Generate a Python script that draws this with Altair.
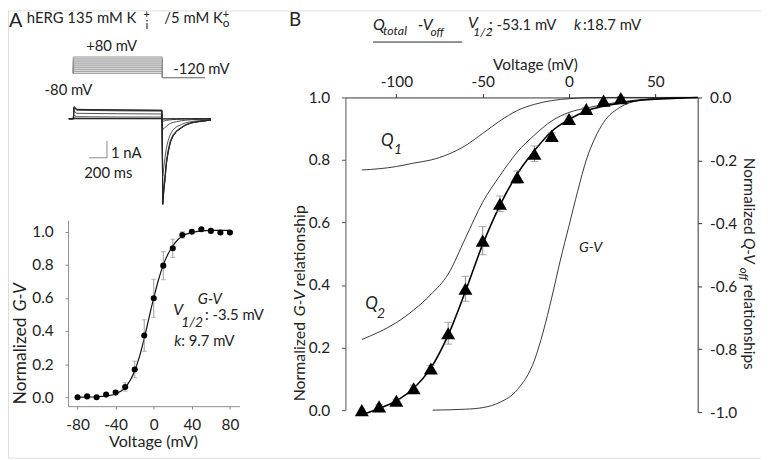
import altair as alt
import pandas as pd

FONT = "Lato"
W, H = 761, 452


def P(v):
    # page pixel -> view pixel (page has an 8px margin)
    return v - 8


def lin(domain, r0, r1):
    return alt.Scale(domain=domain, range=[P(r0), P(r1)], zero=False, nice=False)


# ---------------- data ----------------
# Panel A: voltage protocol (ms, mV)
step_voltages = [-80, -60, -40, -20, 0, 20, 40, 60, 80]
proto_t = [0, 0, 1000, 1000, 1475]
holding_mv = -80
tail_mv = -120

# Panel A: current traces (ms, nA)
trace_t = [-50, 0, 8, 40, 500, 995, 1005, 1015, 1030, 1045, 1065, 1090, 1120, 1160, 1215, 1260, 1325, 1400, 1475, 1545]
tr_m80 = [0, 0, 0, 0, 0, 0, 0, 0, 0, 0, 0, 0, 0, 0, 0, 0, 0, 0, 0, 0]
tr_m60 = [0, 0, 0.02, 0.01, 0.01, 0.01, -0.03, -0.03, -0.02, -0.02, -0.02, -0.01, -0.01, -0.01, 0, 0, 0, 0, 0, 0]
tr_m40 = [0, 0, 0.06, 0.03, 0.02, 0.02, -0.15, -0.14, -0.12, -0.1, -0.08, -0.07, -0.05, -0.04, -0.03, -0.02, -0.015, -0.01, -0.01, 0]
tr_m20 = [0, 0, 0.2, 0.12, 0.1, 0.1, -0.65, -0.6, -0.52, -0.44, -0.36, -0.28, -0.22, -0.17, -0.12, -0.09, -0.06, -0.04, -0.03, -0.02]
tr_0 = [0, 0, 0.45, 0.32, 0.3, 0.28, -3.4, -2.9, -2.3, -1.75, -1.3, -0.92, -0.66, -0.48, -0.34, -0.25, -0.17, -0.12, -0.09, -0.06]
tr_p20 = [0, 0, 0.65, 0.5, 0.47, 0.45, -4.7, -4.0, -3.3, -2.5, -1.85, -1.3, -0.95, -0.7, -0.5, -0.36, -0.24, -0.17, -0.12, -0.08]
tr_p40 = [0, 0, 0.7, 0.55, 0.52, 0.5, -5.0, -4.3, -3.55, -2.65, -1.98, -1.38, -1.02, -0.74, -0.53, -0.38, -0.25, -0.18, -0.13, -0.08]
tr_p60 = [0, 0, 0.7, 0.55, 0.52, 0.5, -5.1, -4.4, -3.6, -2.7, -2.0, -1.4, -1.03, -0.75, -0.54, -0.38, -0.25, -0.18, -0.13, -0.08]
tr_p80 = [0, 0, 0.72, 0.56, 0.52, 0.5, -5.1, -4.4, -3.6, -2.7, -2.0, -1.4, -1.03, -0.75, -0.54, -0.38, -0.25, -0.18, -0.13, -0.08]

# scale bar (200 ms, 1 nA)
bar_t = [178, 378, 378]
bar_i = [-2.32, -2.32, -1.32]

# Panel A: G-V
gvA_v = [-80, -70, -60, -50, -40, -30, -20, -10, 0, 10, 20, 30, 40, 50, 60, 70, 80]
gvA_g = [0.0, 0.005, 0.0, 0.016, 0.028, 0.062, 0.168, 0.373, 0.598, 0.795, 0.90, 0.98, 1.0, 1.015, 1.005, 0.995, 0.995]
gvA_err = [0.005, 0.005, 0.005, 0.008, 0.01, 0.025, 0.05, 0.095, 0.115, 0.085, 0.055, 0.02, 0.01, 0.005, 0.005, 0.005, 0.005]
fitA_v = [-80, -70, -60, -50, -40, -30, -20, -15, -10, -5, 0, 5, 10, 15, 20, 25, 30, 40, 50, 60, 70, 80]
fitA_g = [0.0, 0.001, 0.003, 0.008, 0.02, 0.058, 0.16, 0.245, 0.355, 0.48, 0.6, 0.71, 0.8, 0.865, 0.915, 0.95, 0.975, 0.995, 1.005, 1.008, 1.008, 1.008]

# Panel B: Q_total - V_off
qB_v = [-120, -110, -100, -90, -80, -70, -60, -50, -40, -30, -20, -10, 0, 10, 20, 30]
qB_q = [0.0, 0.012, 0.03, 0.07, 0.133, 0.246, 0.388, 0.542, 0.66, 0.745, 0.82, 0.877, 0.931, 0.963, 0.99, 0.998]
qB_err = [0, 0.005, 0.005, 0.01, 0.01, 0.035, 0.04, 0.045, 0.025, 0.02, 0.025, 0.01, 0.01, 0.005, 0.005, 0.005]
fitB_v = [-120, -115, -110, -100, -90, -80, -70, -60, -50, -40, -30, -20, -10, 0, 10, 20, 30, 40, 50, 60, 74.5]
fitB_q = [-0.015, -0.005, 0.005, 0.03, 0.07, 0.135, 0.24, 0.38, 0.53, 0.655, 0.755, 0.83, 0.892, 0.93, 0.957, 0.972, 0.982, 0.99, 0.994, 0.997, 1.0]
q1_v = [-120, -110, -100, -90, -80, -70, -60, -50, -40, -30, -20, -10, 0, 10, 20, 74.5]
q1_q = [0.768, 0.772, 0.779, 0.79, 0.8, 0.818, 0.846, 0.885, 0.925, 0.958, 0.978, 0.99, 0.996, 0.999, 1.0, 1.0]
q2_v = [-120, -110, -100, -90, -80, -70, -60, -50, -40, -30, -20, -10, 0, 10, 20, 30, 40, 50, 60, 74.5]
q2_q = [0.226, 0.25, 0.28, 0.32, 0.37, 0.435, 0.55, 0.665, 0.75, 0.825, 0.88, 0.925, 0.952, 0.966, 0.977, 0.986, 0.992, 0.997, 1.0, 1.0]
gvB_v = [-79, -60, -50, -40, -30, -20, -15, -10, -5, 0, 5, 10, 15, 20, 30, 40, 50, 74.5]
gvB_g = [0.0, 0.003, 0.008, 0.025, 0.065, 0.16, 0.25, 0.36, 0.48, 0.59, 0.7, 0.8, 0.87, 0.92, 0.97, 0.99, 0.996, 1.0]

# ---------------- scales (explicit pixel ranges) ----------------
S_t = lin([0, 1000], 74, 164)
S_vp = lin([-120, 80], 75.9, 55)
S_i = lin([-5, 0], 202.5, 117.5)
S_xa = lin([-90, 90], 68.7, 241.9)
S_ya = lin([-0.054, 1.07], 408, 220)
S_xb = lin([-129.5, 74.5], 349, 705)
S_yb = lin([0, 1], 412, 96)
S_ybr = lin([-1, 0], 414, 96)

INT_EXPR = "datum.value < 0 ? '-' + format(-datum.value, 'd') : format(datum.value, 'd')"
DEC_EXPR = "datum.value < -0.0001 ? '-' + format(-datum.value, '.1f') : format(abs(datum.value), '.1f')"


def ax(orient, offset, values, expr, color, tick=4, pad=4, size=15.5):
    return alt.Axis(orient=orient, offset=offset, values=values, labelExpr=expr, title=None,
                    grid=False, domainColor=color, tickColor=color, tickSize=tick,
                    domainWidth=1, tickWidth=1, labelFont=FONT, labelFontSize=size,
                    labelColor="#222", labelPadding=pad, labelFlush=False, labelOverlap=False)


NOAX = None

# ---------------- data frames ----------------
proto_rows = []
for v in step_voltages:
    ys = [holding_mv, v, v, tail_mv, tail_mv]
    for k, (t, y) in enumerate(zip(proto_t, ys)):
        proto_rows.append({"v": v, "k": k, "t": t, "mv": y})
proto_df = pd.DataFrame(proto_rows)
fill_df = pd.DataFrame({"t0": [0], "t1": [1000], "v0": [step_voltages[0]], "v1": [step_voltages[-1]]})

traces = {-80: tr_m80, -60: tr_m60, -40: tr_m40, -20: tr_m20, 0: tr_0, 20: tr_p20, 40: tr_p40, 60: tr_p60, 80: tr_p80}
tr_rows = []
for v, vals in traces.items():
    for k, (t, i) in enumerate(zip(trace_t, vals)):
        tr_rows.append({"v": v, "k": k, "t": t, "i": i})
tr_df = pd.DataFrame(tr_rows)
base_df = pd.DataFrame({"t": [trace_t[0], trace_t[-1]], "i": [0, 0], "k": [0, 1]})
bar_df = pd.DataFrame({"t": bar_t, "i": bar_i, "k": list(range(len(bar_t)))})

gvA_df = pd.DataFrame({"v": gvA_v, "g": gvA_g, "e": gvA_err})
gvA_df["lo"] = gvA_df["g"] - gvA_df["e"]
gvA_df["hi"] = gvA_df["g"] + gvA_df["e"]
capA_df = pd.concat([gvA_df[["v", "lo"]].rename(columns={"lo": "y"}),
                     gvA_df[["v", "hi"]].rename(columns={"hi": "y"})])
fitA_df = pd.DataFrame({"v": fitA_v, "g": fitA_g})

qB_df = pd.DataFrame({"v": qB_v, "q": qB_q, "e": qB_err})
qB_df["lo"] = qB_df["q"] - qB_df["e"]
qB_df["hi"] = qB_df["q"] + qB_df["e"]
errB_df = qB_df[qB_df["e"] > 0]
capB_df = pd.concat([errB_df[["v", "lo"]].rename(columns={"lo": "y"}),
                     errB_df[["v", "hi"]].rename(columns={"hi": "y"})])
fitB_df = pd.DataFrame({"v": fitB_v, "q": fitB_q})
thin_df = pd.concat([
    pd.DataFrame({"c": "Q1", "v": q1_v, "q": q1_q}),
    pd.DataFrame({"c": "Q2", "v": q2_v, "q": q2_q}),
    pd.DataFrame({"c": "GV", "v": gvB_v, "q": gvB_g}),
])

# ---------------- layers ----------------
layers = []

# Panel A: protocol
layers.append(alt.Chart(fill_df).mark_rect(color="#e2e2e2").encode(
    x=alt.X("t0:Q", scale=S_t, axis=NOAX), x2="t1:Q",
    y=alt.Y("v0:Q", scale=S_vp, axis=NOAX), y2="v1:Q"))
layers.append(alt.Chart(proto_df).mark_line(color="#8a8a8a", strokeWidth=0.8).encode(
    x=alt.X("t:Q", scale=S_t, axis=NOAX), y=alt.Y("mv:Q", scale=S_vp, axis=NOAX),
    detail="v:N", order="k:Q"))

# Panel A: current traces
layers.append(alt.Chart(base_df).mark_line(color="#999", strokeWidth=0.8).encode(
    x=alt.X("t:Q", scale=S_t, axis=NOAX), y=alt.Y("i:Q", scale=S_i, axis=NOAX), order="k:Q"))
layers.append(alt.Chart(tr_df).mark_line(color="#222", strokeWidth=0.8).encode(
    x=alt.X("t:Q", scale=S_t, axis=NOAX), y=alt.Y("i:Q", scale=S_i, axis=NOAX),
    detail="v:N", order="k:Q"))
layers.append(alt.Chart(bar_df).mark_line(color="#8a8a8a", strokeWidth=1).encode(
    x=alt.X("t:Q", scale=S_t, axis=NOAX), y=alt.Y("i:Q", scale=S_i, axis=NOAX), order="k:Q"))

# Panel A: G-V plot
layers.append(alt.Chart(fitA_df).mark_line(color="#111", strokeWidth=1.2, interpolate="monotone").encode(
    x=alt.X("v:Q", scale=S_xa, axis=ax("bottom", P(408) - H, [-80, -40, 0, 40, 80], INT_EXPR, "#8c8c8c", 3, 9)),
    y=alt.Y("g:Q", scale=S_ya, axis=ax("left", -P(68.7), [0, 0.2, 0.4, 0.6, 0.8, 1.0], DEC_EXPR, "#8c8c8c", 3, 12))))
layers.append(alt.Chart(gvA_df).mark_rule(color="#999", strokeWidth=1).encode(
    x=alt.X("v:Q", scale=S_xa, axis=NOAX), y=alt.Y("lo:Q", scale=S_ya, axis=NOAX), y2="hi:Q"))
layers.append(alt.Chart(capA_df).mark_tick(color="#999", orient="horizontal", size=5, thickness=1).encode(
    x=alt.X("v:Q", scale=S_xa, axis=NOAX), y=alt.Y("y:Q", scale=S_ya, axis=NOAX)))
layers.append(alt.Chart(gvA_df).mark_point(shape="circle", filled=True, color="#000", opacity=1, size=38).encode(
    x=alt.X("v:Q", scale=S_xa, axis=NOAX), y=alt.Y("g:Q", scale=S_ya, axis=NOAX)))

# Panel B
layers.append(alt.Chart(thin_df).mark_line(color="#222", strokeWidth=0.9, interpolate="monotone").encode(
    x=alt.X("v:Q", scale=S_xb, axis=ax("top", -P(96), [-100, -50, 0, 50], INT_EXPR, "#333", 4, 4)),
    y=alt.Y("q:Q", scale=S_yb, axis=ax("left", -P(349), [0, 0.2, 0.4, 0.6, 0.8, 1.0], DEC_EXPR, "#555", 4, 12)),
    detail="c:N"))
layers.append(alt.Chart(fitB_df).mark_line(color="#000", strokeWidth=1.6, interpolate="monotone").encode(
    x=alt.X("v:Q", scale=S_xb, axis=NOAX),
    y=alt.Y("q:Q", scale=S_yb, axis=NOAX)))
# right axis (Q-V off) on its own scale
layers.append(alt.Chart(pd.DataFrame({"v": [74.5], "q": [0.0]})).mark_point(opacity=0).encode(
    x=alt.X("v:Q", scale=S_xb, axis=NOAX),
    y=alt.Y("q:Q", scale=S_ybr, axis=ax("right", P(705) - W, [0, -0.2, -0.4, -0.6, -0.8, -1.0], DEC_EXPR, "#333", 4, 8))))
layers.append(alt.Chart(errB_df).mark_rule(color="#888", strokeWidth=1).encode(
    x=alt.X("v:Q", scale=S_xb, axis=NOAX), y=alt.Y("lo:Q", scale=S_yb, axis=NOAX), y2="hi:Q"))
layers.append(alt.Chart(capB_df).mark_tick(color="#888", orient="horizontal", size=8, thickness=1).encode(
    x=alt.X("v:Q", scale=S_xb, axis=NOAX), y=alt.Y("y:Q", scale=S_yb, axis=NOAX)))
layers.append(alt.Chart(qB_df).mark_point(shape="triangle-up", filled=True, color="#000", opacity=1, size=200).encode(
    x=alt.X("v:Q", scale=S_xb, axis=NOAX), y=alt.Y("q:Q", scale=S_yb, axis=NOAX)))

# ---------------- text ----------------
dummy = pd.DataFrame({"a": [0]})


def label(s, x, y, size=14, italic=False, angle=0, align="left", baseline="alphabetic", color="#222"):
    kw = dict(text=s, font=FONT, fontSize=size, align=align, baseline=baseline, color=color)
    if angle:
        kw["angle"] = angle
    if italic:
        kw["fontStyle"] = "italic"
    return alt.Chart(dummy).mark_text(**kw).encode(x=alt.value(P(x)), y=alt.value(P(y)))


texts = [
    label("A", 9, 25, 20),
    label("hERG  135 mM K", 27, 21, 15),
    label("+", 145, 16, 11),
    label("i", 147, 27, 12),
    label("/5 mM K", 166, 21, 15),
    label("+", 225, 16, 11),
    label("o", 225, 25, 12),
    label("+80 mV", 87, 49, 15),
    label("-120 mV", 175, 72, 15),
    label("-80 mV", 45, 94, 15),
    label("1 nA", 112, 157, 15),
    label("200 ms", 85, 177, 15),
    label("G-V", 212, 305, 15, True, align="center"),
    label("V", 175, 316, 16, True),
    label("1/2", 183, 328, 14, True),
    label(": -3.5 mV", 207, 321, 15),
    label("k", 176, 347, 15, True),
    label(": 9.7 mV", 183, 347, 15),
    label("Normalized", 21, 406, 17.5, angle=270, baseline="middle"),
    label("G-V", 21, 312, 17.5, True, angle=270, baseline="middle"),
    label("Voltage (mV)", 155, 449, 16.3, align="center"),
    # Panel B
    label("B", 292, 24, 19),
    label("Q", 377, 28, 16, True),
    label("total", 387, 33, 12.5, True),
    label("-V", 422, 28, 16, True),
    label("off", 435, 34, 12, True),
    label("V", 473, 26, 16, True),
    label("1/2", 478, 34, 12.5, True),
    label(": -53.1 mV", 494, 28, 15),
    label("k", 580, 28, 15, True),
    label(":18.7  mV", 589, 28, 15),
    label("Voltage (mV)", 541, 68, 15.5, align="center"),
    label("Q", 385, 145, 17, True),
    label("1", 398, 153, 14, True),
    label("Q", 369, 310, 17, True),
    label("2", 381, 319, 14, True),
    label("G-V", 585, 252, 14.5, True),
    label("Normalized", 303, 403, 16, angle=270, baseline="middle"),
    label("G-V", 303, 317, 16, True, angle=270, baseline="middle"),
    label("relationship", 303, 287, 16, angle=270, baseline="middle"),
    label("Normalized", 757, 157, 15.5, angle=90, baseline="middle"),
    label("Q-V", 757, 238, 15.5, True, angle=90, baseline="middle"),
    label("off", 751, 268, 11.5, True, angle=90, baseline="middle"),
    label("relationships", 757, 285, 15.5, angle=90, baseline="middle"),
]
underline = alt.Chart(dummy).mark_rule(color="#222", strokeWidth=1).encode(
    x=alt.value(P(377)), x2=alt.value(P(467)), y=alt.value(P(40)))

chart = alt.layer(*layers, *texts, underline).resolve_scale(
    x="independent", y="independent"
).properties(
    width=W, height=H, padding=0, autosize=alt.AutoSizeParams(type="none")
).configure_view(strokeWidth=0).configure(font=FONT)

chart.save("out.html", embed_options={"renderer": "svg", "actions": False})
